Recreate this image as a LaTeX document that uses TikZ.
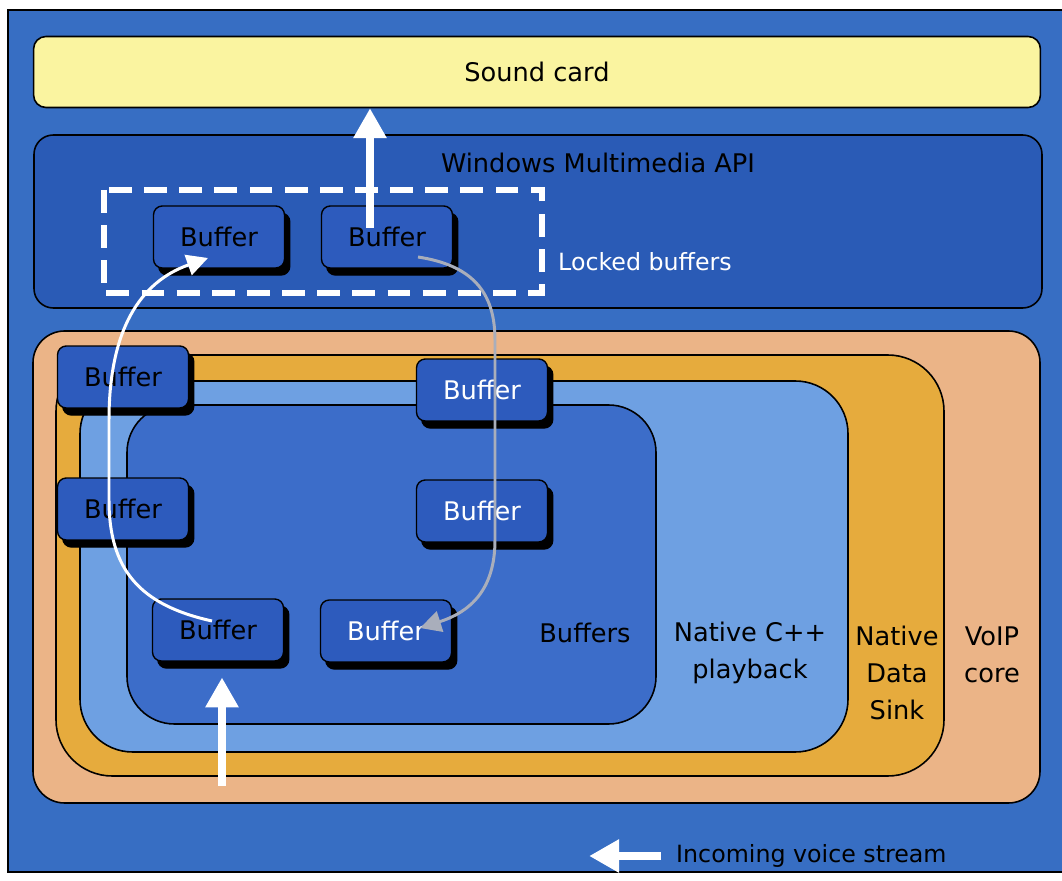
\documentclass[tikz,border=0pt]{standalone}
\usepackage{fontspec}
\setmainfont{DejaVu Sans}
\usetikzlibrary{arrows.meta,calc,positioning,shadows}
\definecolor{Frame}{HTML}{376EC3}
\definecolor{Card}{HTML}{FAF4A0}
\definecolor{ApiBlue}{HTML}{2A5BB6}
\definecolor{VoipCore}{HTML}{EBB487}
\definecolor{DataSink}{HTML}{E6AB3D}
\definecolor{Playback}{HTML}{6EA0E2}
\definecolor{BufZone}{HTML}{3C6DC9}
\definecolor{BufFill}{HTML}{2D5BBD}
\definecolor{FlowGray}{HTML}{A9AEBB}

\begin{document}
\begin{tikzpicture}[x=0.02cm, y=-0.02cm,
  font=\fontsize{14.6}{21}\selectfont,
  layer/.style={draw=black, line width=0.9pt, fill=#1},
  buf/.style={draw=black, line width=0.8pt, fill=BufFill, rounded corners=5pt,
    minimum width=2.62cm, minimum height=1.24cm, text=#1,
    copy shadow={shadow xshift=3pt, shadow yshift=-4pt, fill=black, draw=black}},
  buf/.default=black,
  lab/.style={align=center, text=black},
  note/.style={font=\fontsize{13.5}{16}\selectfont},
  fat/.style={draw=white, line width=4pt, -{Triangle[width=18pt, length=17pt]}},
  flow/.style={line width=1.7pt, -{Triangle[width=12pt, length=12pt]}},
]
\path[use as bounding box, fill=white] (0,0) rectangle (1062,881);
\draw[layer=Frame] (8,10) rectangle (1066,872);
% ---------------- sound card and multimedia API
\node[layer=Card, rounded corners=7pt, minimum width=20.14cm, minimum height=1.42cm] (card) at (537,72) {Sound card};
\draw[layer=ApiBlue, rounded corners=11pt] (34,135) rectangle (1042,308);
\node[lab] (api) at (598,163) {Windows Multimedia API};
\draw[white, line width=3pt, dash pattern=on 13pt off 7pt] (104,190) rectangle (542,293);
\node[note, text=white, anchor=west] (locked) at (552,262) {Locked buffers};
\node[buf] (wb1) at (219,237) {Buffer};
\node[buf] (wb2) at (387,237) {Buffer};
% ---------------- nested layers
\draw[layer=VoipCore, rounded corners=18pt] (33,331) rectangle (1040,803);
\draw[layer=DataSink, rounded corners=32pt] (56,355) rectangle (944,776);
\draw[layer=Playback, rounded corners=30pt] (80,381) rectangle (848,752);
\draw[layer=BufZone, rounded corners=27pt] (127,405) rectangle (656,724);
\node[lab] (bufl) at (585,633) {Buffers};
\node[lab] (cpp) at (750,653) {Native C++\\playback};
\node[lab] (sink) at (897,673) {Native\\Data\\Sink};
\node[lab] (voip) at (992,655) {VoIP\\core};
% buffers in the queue
\node[buf] (lt) at (123,377) {Buffer};
\node[buf] (lm) at (123,509) {Buffer};
\node[buf=white] (rt) at (482,390) {Buffer};
\node[buf=white] (rm) at (482,511) {Buffer};
\node[buf] (bb1) at (218,630) {Buffer};
\node[buf=white] (bb2) at (386,631) {Buffer};
% ---------------- flow of buffers
\coordinate (lift) at (370,228);
\draw[fat] (lift) -- (lift |- card.south);
\coordinate (feed) at (222,786);
\draw[fat] (feed) -- ([yshift=-9pt]feed |- bb1.south);
\draw[flow, white] ($(bb1.center)+(-6,-9)$) .. controls (140,605) and (109,570) .. (109,500)
  -- (109,420) .. controls (109,330) and (140,282) .. ($(wb1.center)+(-11,21)$);
\draw[flow, FlowGray] ($(wb2.center)+(31,20)$) .. controls (470,265) and (495,290) .. (495,340)
  -- (495,540) .. controls (495,590) and (470,612) .. ($(bb2.center)+(34,-3)$);
% ---------------- legend
\node[note, anchor=west] (stream) at (670,856) {Incoming voice stream};
\draw[fat] ([xshift=-5pt]stream.west) -- ++(-72,0);
\end{tikzpicture}
\end{document}
